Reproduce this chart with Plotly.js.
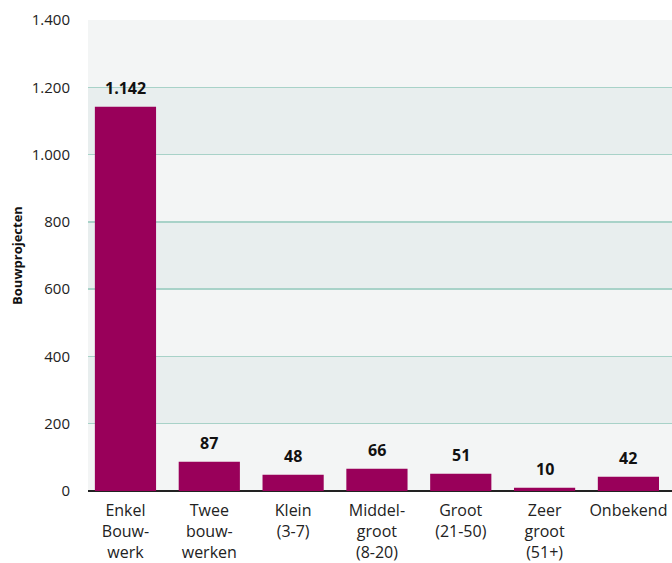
<!DOCTYPE html>
<html>
<head>
<meta charset="utf-8">
<script src="https://cdn.plot.ly/plotly-3.0.1.min.js"></script>
<style>html,body{margin:0;padding:0;background:#fff}#chart{width:672px;height:563px}</style>
</head>
<body>
<div id="chart"></div>
<script>
const categories = ["Enkel<br>Bouw-<br>werk", "Twee<br>bouw-<br>werken", "Klein<br>(3-7)", "Middel-<br>groot<br>(8-20)", "Groot<br>(21-50)", "Zeer<br>groot<br>(51+)", "Onbekend"];
const values = [1142, 87, 48, 66, 51, 10, 42];
const yTicks = [0, 200, 400, 600, 800, 1000, 1200, 1400];
const darkBands = [[200, 400], [600, 800], [1000, 1200]];

const FONT = "'Open Sans', 'Noto Sans', sans-serif";
const idx = categories.map((_, i) => i);

const trace = {
  type: 'bar',
  x: idx,
  y: values,
  marker: {color: '#99005a'},
  width: 0.73,
  hoverinfo: 'skip'
};

const shapes = darkBands.map(b => ({
  type: 'rect', xref: 'paper', yref: 'y', x0: 0, x1: 1, y0: b[0], y1: b[1],
  fillcolor: '#e8eeee', line: {width: 0}, layer: 'below'
}));

const annotations = values.map((v, i) => ({
  x: i, y: v, xref: 'x', yref: 'y',
  text: v.toLocaleString('nl-NL'),
  showarrow: false, yanchor: 'bottom', yshift: 6,
  font: {family: FONT, size: 16, color: '#111', weight: 'bold'}
}));

const layout = {
  width: 672, height: 563,
  margin: {l: 88, r: 0, t: 20, b: 72, pad: 0},
  paper_bgcolor: '#ffffff',
  plot_bgcolor: '#f3f5f5',
  separators: ',.',
  showlegend: false,
  font: {family: FONT, size: 14, color: '#222'},
  xaxis: {
    range: [-0.447, 6.52],
    tickmode: 'array', tickvals: idx, ticktext: categories,
    showgrid: false, zeroline: false, showline: false,
    ticks: 'outside', ticklen: 5, tickcolor: 'rgba(0,0,0,0)',
    tickfont: {family: FONT, size: 16, color: '#222'},
    automargin: false, fixedrange: true
  },
  yaxis: {
    range: [0, 1400],
    tickmode: 'array', tickvals: yTicks,
    tickformat: ',d',
    showgrid: true, gridcolor: '#a8d2c8', gridwidth: 1.5,
    zeroline: true, zerolinecolor: '#222', zerolinewidth: 1.5,
    showline: false,
    ticks: 'outside', ticklen: 14, tickcolor: 'rgba(0,0,0,0)',
    tickfont: {family: FONT, size: 15, color: '#222'},
    title: {text: 'Bouwprojecten', standoff: 6, font: {family: FONT, size: 13, color: '#111', weight: 'bold'}},
    automargin: false, fixedrange: true
  },
  shapes: shapes,
  annotations: annotations
};

Plotly.newPlot('chart', [trace], layout, {displayModeBar: false, staticPlot: true});
</script>
</body>
</html>
